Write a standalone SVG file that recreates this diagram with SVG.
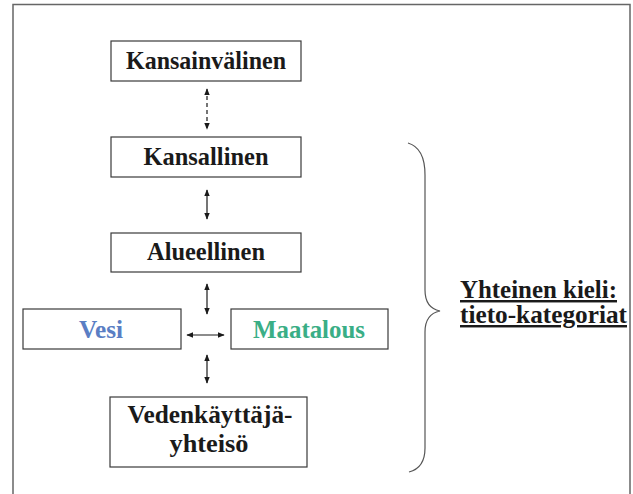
<svg xmlns="http://www.w3.org/2000/svg" width="633" height="494" viewBox="0 0 633 494">
<style>
.box{fill:#fff;stroke:#3a3a3a;stroke-width:1.2}
text{font-family:'Liberation Serif','DejaVu Serif','Times New Roman',serif;font-weight:bold;font-size:24.5px;fill:#1a1a1a;text-anchor:middle}
.conn{stroke:#1a1a1a;stroke-width:1.2;fill:none}
.frame{stroke:#666;stroke-width:1.5;fill:none}
</style>
<defs>
<marker id="ah" viewBox="0 0 10 10" refX="9" refY="5" markerWidth="7" markerHeight="7" orient="auto-start-reverse" markerUnits="userSpaceOnUse">
<path d="M0,1 L10,5 L0,9 z" fill="#1a1a1a"/>
</marker>
</defs>
<rect width="633" height="494" fill="#fff"/>
<path class="frame" d="M13,494 V4.5 H630 V494"/>
<g id="n-kansainvalinen"><rect class="box" x="111" y="41" width="190" height="40"/><text x="206" y="69" textLength="160" lengthAdjust="spacingAndGlyphs">Kansainvälinen</text></g>
<g id="n-kansallinen"><rect class="box" x="111" y="137" width="190" height="40"/><text x="206" y="165" textLength="125" lengthAdjust="spacingAndGlyphs">Kansallinen</text></g>
<g id="n-alueellinen"><rect class="box" x="111" y="233" width="190" height="39"/><text x="206" y="260" textLength="118" lengthAdjust="spacingAndGlyphs">Alueellinen</text></g>
<g id="n-vesi"><rect class="box" x="23" y="309" width="158" height="40"/><text x="101" y="338" textLength="44" lengthAdjust="spacingAndGlyphs" style="fill:#5a7ec4">Vesi</text></g>
<g id="n-maatalous"><rect class="box" x="231" y="309" width="157" height="40"/><text x="309" y="338" textLength="112" lengthAdjust="spacingAndGlyphs" style="fill:#3aae86">Maatalous</text></g>
<g id="n-vedenkayttaja"><rect class="box" x="110" y="397" width="197" height="70"/><text x="210" y="423" textLength="165" lengthAdjust="spacingAndGlyphs">Vedenkäyttäjä-</text><text x="209" y="452" textLength="79" lengthAdjust="spacingAndGlyphs">yhteisö</text></g>
<g id="connectors">
<line class="conn" x1="207" y1="89" x2="207" y2="129" stroke-dasharray="4,3" marker-start="url(#ah)" marker-end="url(#ah)"/>
<line class="conn" x1="207" y1="190" x2="207" y2="219" marker-start="url(#ah)" marker-end="url(#ah)"/>
<line class="conn" x1="207" y1="284" x2="207" y2="314" marker-start="url(#ah)" marker-end="url(#ah)"/>
<line class="conn" x1="207" y1="355" x2="207" y2="383" marker-start="url(#ah)" marker-end="url(#ah)"/>
<line class="conn" x1="187" y1="335" x2="224" y2="335" marker-start="url(#ah)" marker-end="url(#ah)"/>
</g>
<g id="brace">
<path d="M408,143 Q425,148 425,175 V290 Q425,308 440,311 Q425,314 425,332 V448 Q425,468 409,472" fill="none" stroke="#555" stroke-width="1.2"/>
</g>
<g id="label">
<text x="460" y="298" textLength="157" lengthAdjust="spacingAndGlyphs" style="text-anchor:start;text-decoration:underline">Yhteinen kieli:</text>
<text x="460" y="323" textLength="167" lengthAdjust="spacingAndGlyphs" style="text-anchor:start;text-decoration:underline">tieto-kategoriat</text>
</g>
</svg>
